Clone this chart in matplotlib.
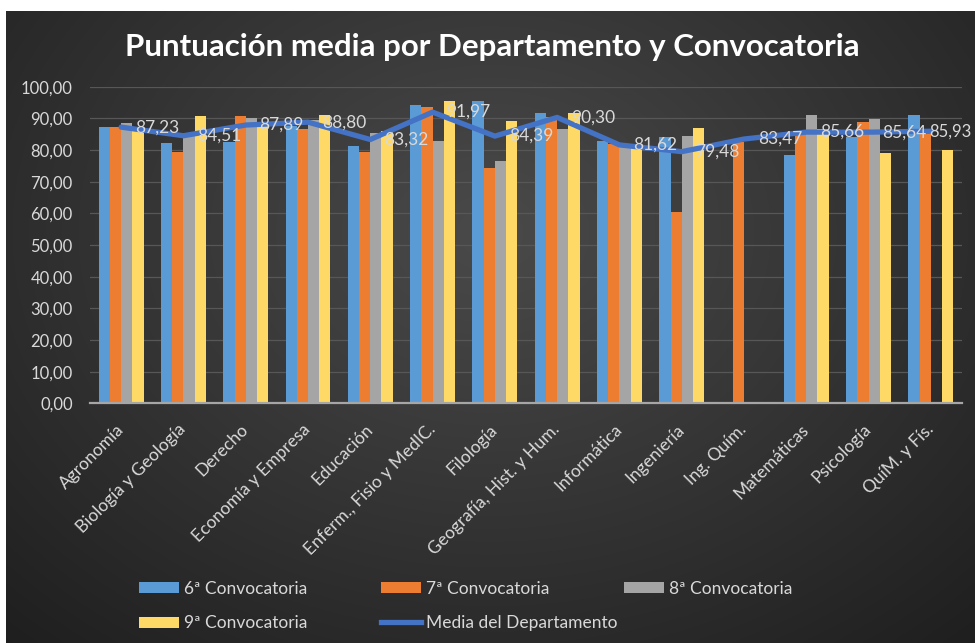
import numpy as np
import matplotlib
matplotlib.use("Agg")
import matplotlib.pyplot as plt
from matplotlib.patches import Patch
from matplotlib.lines import Line2D

nan = np.nan
departamentos = ["Agronomía", "Biología y Geología", "Derecho", "Economía y Empresa", "Educación",
                 "Enferm., Fisio y MedIC.", "Filología", "Geografía, Hist. y Hum.", "Informática",
                 "Ingeniería", "Ing. Quím.", "Matemáticas", "Psicología", "QuíM. y Fís."]
conv6 = [87.4, 82.3, 82.5, 87.5, 81.2, 94.2, 95.5, 91.8, 83.0, 84.2, nan, 78.4, 84.0, 91.1]
conv7 = [87.4, 79.5, 90.7, 86.5, 79.3, 93.5, 74.4, 90.5, 81.8, 60.5, 82.5, 85.5, 89.0, 86.5]
conv8 = [88.4, 85.0, 90.0, 89.5, 85.5, 82.8, 76.5, 86.6, 81.0, 84.4, nan, 91.1, 89.8, nan]
conv9 = [86.0, 90.7, 88.0, 91.0, 86.0, 95.5, 89.2, 91.8, 80.5, 87.0, nan, 86.5, 79.2, 80.0]
media = [87.23, 84.51, 87.89, 88.80, 83.32, 91.97, 84.39, 90.30, 81.62, 79.48, 83.47, 85.66, 85.64, 85.93]
series_names = ["6ª Convocatoria", "7ª Convocatoria", "8ª Convocatoria", "9ª Convocatoria"]
media_name = "Media del Departamento"
yticks = [0, 10, 20, 30, 40, 50, 60, 70, 80, 90, 100]

colors = ["#5B9BD5", "#ED7D31", "#A5A5A5", "#FFD966"]
line_color = "#4472C4"
txt_color = "#D9D9D9"
FONT = ["Lato", "DejaVu Sans"]
plt.rcParams["font.family"] = FONT

W, H = 975, 643
fig = plt.figure(figsize=(W / 100, H / 100), dpi=100)
fig.patch.set_facecolor("white")

# background gradient panel
bg = fig.add_axes([6 / W, 0, 1 - 6 / W, 1 - 11 / H])
bg.set_axis_off()
yy, xx = np.mgrid[0:1:300j, 0:1:450j]
r = np.sqrt(((xx - 0.5) / 0.75) ** 2 + ((yy - 0.35) / 0.9) ** 2)
r = np.clip(r, 0, 1)
c0 = np.array([0x4a, 0x4a, 0x4a]) / 255
c1 = np.array([0x1e, 0x1e, 0x1e]) / 255
img = c0[None, None, :] * (1 - r[..., None]) + c1[None, None, :] * r[..., None]
bg.imshow(img, aspect="auto", extent=[0, 1, 1, 0], interpolation="bilinear")
bg.set_xlim(0, 1)
bg.set_ylim(1, 0)

ax = fig.add_axes([90 / W, (H - 403.3) / H, (962 - 90) / W, (403.3 - 86.7) / H])
ax.set_facecolor("none")
n = len(departamentos)
x = np.arange(n)
bw = 0.18
data = [conv6, conv7, conv8, conv9]
for k, (vals, col, name) in enumerate(zip(data, colors, series_names)):
    ax.bar(x + (k - 1.5) * bw, vals, width=bw, color=col, label=name, zorder=2)
ax.plot(x, media, color=line_color, lw=3.8, solid_joinstyle="round", solid_capstyle="round", zorder=3)
for i, (xi, v) in enumerate(zip(x, media)):
    off = 10 if i < n - 1 else -1.5
    ax.annotate(f"{v:.2f}".replace(".", ","), (xi, v), xytext=(off, 0), textcoords="offset points",
                ha="left", va="center", fontsize=12.5 if i < n - 1 else 12, color=txt_color, zorder=4,
                annotation_clip=False)

ax.set_xlim(-0.5, n - 0.5)
ax.set_ylim(0, 100)
ax.set_yticks(yticks)
ax.set_yticklabels([f"{v:.2f}".replace(".", ",") for v in yticks], color=txt_color, fontsize=12)
ax.yaxis.grid(True, color="#575757", lw=0.9, zorder=0)
ax.set_axisbelow(True)
ax.set_xticks(x)
ax.set_xticklabels(departamentos, rotation=45, ha="right", va="center", rotation_mode="anchor",
                   color=txt_color, fontsize=12.5)
ax.tick_params(axis="both", length=0)
ax.tick_params(axis="x", pad=17)
ax.tick_params(axis="y", pad=12.5)
for s in ["top", "right", "left"]:
    ax.spines[s].set_visible(False)
ax.spines["bottom"].set_color("#A6A6A6")
ax.spines["bottom"].set_linewidth(1.6)
ax.spines["bottom"].set_zorder(5)

fig.text(0.505, 1 - 47 / H, "Puntuación media por Departamento y Convocatoria", ha="center", va="center",
         fontsize=22.5, fontweight="bold", color="white")

# legend in three equal-width columns
patches = [Patch(facecolor=c, edgecolor="none") for c in colors]
media_handle = Line2D([0], [0], color=line_color, lw=3.8)
cols = [([patches[0], patches[3]], [series_names[0], series_names[3]], 139),
        ([patches[1], media_handle], [series_names[1], media_name], 381),
        ([patches[2]], [series_names[2]], 624)]
for handles, labels, x0 in cols:
    fig.legend(handles, labels, loc="upper left", bbox_to_anchor=(x0 / W, 1 - 581 / H),
               frameon=False, fontsize=12.5, labelcolor=txt_color, handlelength=2.3,
               handleheight=0.6, handletextpad=0.3, labelspacing=1.05, borderaxespad=0,
               borderpad=0)

fig.savefig("out.png", dpi=100, facecolor=fig.get_facecolor())
